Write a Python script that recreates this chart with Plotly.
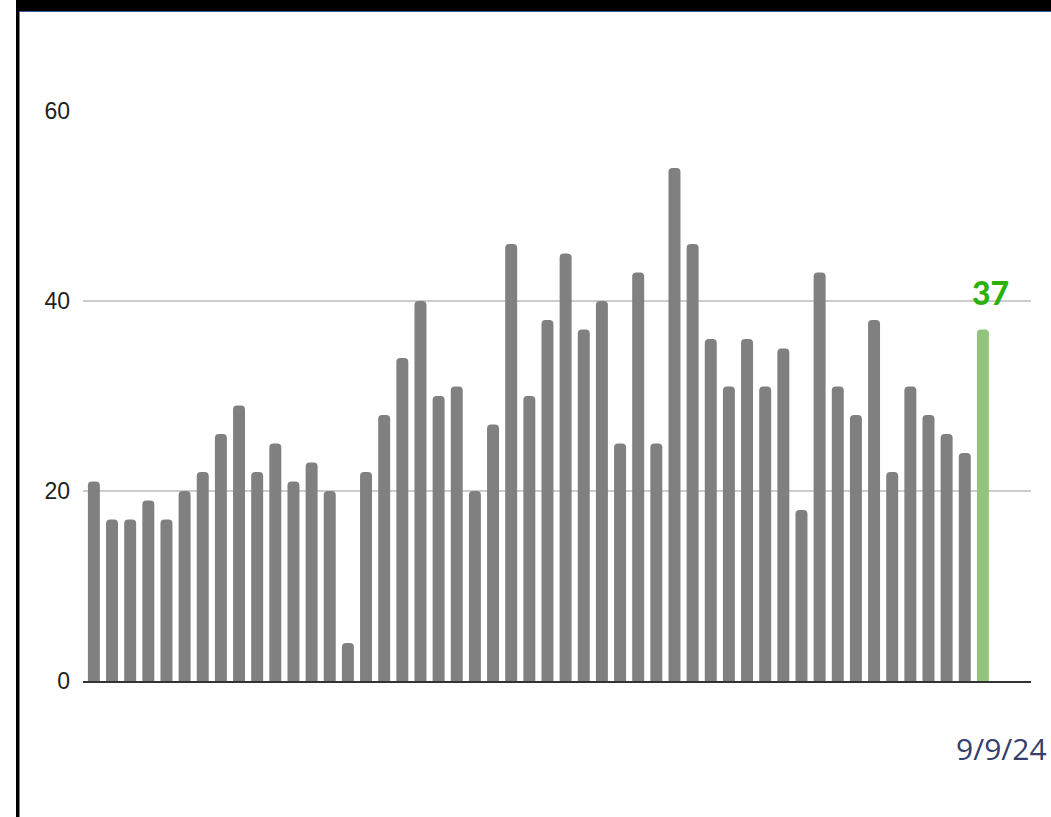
import plotly.graph_objects as go

# ---- data ----
weeks = list(range(1, 51))
values = [21, 17, 17, 19, 17, 20, 22, 26, 29, 22,
          25, 21, 23, 20, 4, 22, 28, 34, 40, 30,
          31, 20, 27, 46, 30, 38, 45, 37, 40, 25,
          43, 25, 54, 46, 36, 31, 36, 31, 35, 18,
          43, 31, 28, 38, 22, 31, 28, 26, 24, 37]
y_ticks = [0, 20, 40, 60]
date_label = "9/9/24"

GRAY = "#808080"
GREEN = "#93c47d"
colors = [GRAY] * (len(values) - 1) + [GREEN]

W, H = 1051, 817
L, R, T, B = 83, 1031, 111, 681

def px(x):
    return (x - L) / (R - L)

def py(y):
    return (B - y) / (B - T)

fig = go.Figure(go.Bar(
    x=weeks, y=values, marker=dict(color=colors, cornerradius=4, line=dict(width=0)),
    width=0.66, hoverinfo="skip",
))

last = len(values) - 1
fig.add_annotation(x=weeks[last], y=values[last], text="%d" % values[last],
                   showarrow=False, yanchor="bottom", yshift=16, xshift=8,
                   font=dict(family="Lato, 'Open Sans', sans-serif", size=32, weight=900, color="#2cb10b"))

fig.add_annotation(xref="paper", yref="paper", x=px(1049), y=py(748), text=date_label,
                   showarrow=False, xanchor="right", yanchor="middle",
                   font=dict(family="'Open Sans', sans-serif", size=30, color="#34406a"))

shapes = [
    dict(type="rect", xref="paper", yref="paper", x0=px(16), x1=px(19.5), y0=py(0), y1=py(817),
         fillcolor="black", line=dict(width=0), layer="above"),
    dict(type="rect", xref="paper", yref="paper", x0=px(17), x1=px(1052), y0=py(0), y1=py(11),
         fillcolor="black", line=dict(width=0), layer="above"),
    dict(type="line", xref="paper", yref="paper", x0=px(19), x1=px(1052), y0=py(11.5), y1=py(11.5),
         line=dict(color="#3a5f9e", width=1.2), layer="above"),
]

fig.update_layout(
    width=W, height=H,
    margin=dict(l=L, r=W - R, t=T, b=H - B, pad=0),
    paper_bgcolor="white", plot_bgcolor="white",
    showlegend=False, shapes=shapes,
    xaxis=dict(range=[0.4, 52.65], showgrid=False, showticklabels=False, ticks="",
               showline=True, linecolor="#333333", linewidth=1.5, zeroline=False,
               layer="below traces"),
    yaxis=dict(range=[0, 60], tickvals=y_ticks, showgrid=True, gridcolor="#cccccc", gridwidth=1.5,
               zeroline=False, showline=False, ticks="", ticklabelstandoff=12,
               tickfont=dict(family="'Liberation Sans Narrow', 'Arial Narrow', sans-serif", size=23, color="#222222"),
               layer="below traces"),
)

fig.write_html("out.html", config={"displayModeBar": False},
               post_script="document.body.style.margin='0';document.body.style.overflow='hidden';")
